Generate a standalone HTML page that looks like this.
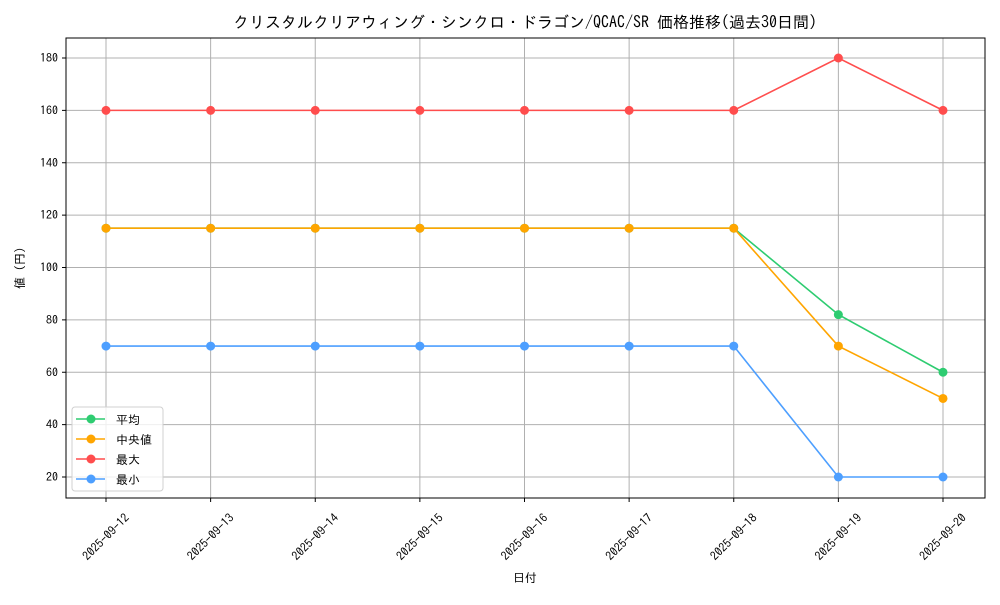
<!DOCTYPE html>
<html><head><meta charset="utf-8"><style>
body{margin:0;background:#fff}
svg text{font-family:"IPAGothic","Noto Sans CJK JP",sans-serif;fill:#000}
</style></head><body>
<svg id="c" width="1000" height="600" xmlns="http://www.w3.org/2000/svg">
<rect width="1000" height="600" fill="#fff"/>
<text x="525" y="28" font-size="16" text-anchor="middle">クリスタルクリアウィング・シンクロ・ドラゴン/QCAC/SR 価格推移(過去30日間)</text>
<g id="grid"></g><g id="series"></g>
<rect x="66" y="38" width="919" height="460" fill="none" stroke="#000" stroke-width="1"/>
<g id="axes"></g>
<text x="525" y="582" font-size="12" text-anchor="middle">日付</text>
<text transform="translate(24,268) rotate(-90)" font-size="12" text-anchor="middle">値 (円)</text>
<g id="legend"></g>
</svg>
<script>
const dates=["2025-09-12","2025-09-13","2025-09-14","2025-09-15","2025-09-16","2025-09-17","2025-09-18","2025-09-19","2025-09-20"];
const avgVals=[115,115,115,115,115,115,115,82,60];
const medVals=[115,115,115,115,115,115,115,70,50];
const maxVals=[160,160,160,160,160,160,160,180,160];
const minVals=[70,70,70,70,70,70,70,20,20];
const yTicks=[20,40,60,80,100,120,140,160,180];
const names=["平均","中央値","最大","最小"];
const NS="http://www.w3.org/2000/svg";
const x=i=>106+i*(943-106)/(dates.length-1);
const y=v=>477-(v-20)*(477-58)/160;
function mk(t,a,p){const e=document.createElementNS(NS,t);for(const k in a)e.setAttribute(k,a[k]);p.appendChild(e);return e;}
const grid=document.getElementById('grid'),axes=document.getElementById('axes'),ser=document.getElementById('series'),leg=document.getElementById('legend');
dates.forEach((d,i)=>{
 const g=mk('line',{x1:x(i),x2:x(i),y1:38,y2:498,stroke:'#b0b0b0','stroke-width':1},grid);
 
 mk('line',{x1:x(i),x2:x(i),y1:498,y2:502,stroke:'#000'},axes);
 const t=mk('text',{transform:`translate(${x(i)},537) rotate(-45)`,'font-size':12,'text-anchor':'middle',dy:4},axes);
 t.textContent=d;
 
});
yTicks.forEach(v=>{
 const g=mk('line',{x1:66,x2:985,y1:y(v),y2:y(v),stroke:'#b0b0b0','stroke-width':1},grid);
 
 mk('line',{x1:62,x2:66,y1:y(v),y2:y(v),stroke:'#000'},axes);
 const t=mk('text',{x:58,y:y(v)+4,'font-size':12,'text-anchor':'end'},axes);
 t.textContent=v;
 
});
const all=[[avgVals,'#2ecc71','series-average'],[medVals,'#ffa500','series-median'],[maxVals,'#ff4d4d','series-max'],[minVals,'#4d9fff','series-min']];
all.forEach(([vals,col,nm])=>{
 const g=mk('g',{},ser);
 
 mk('polyline',{points:vals.map((v,i)=>x(i)+','+y(v)).join(' '),fill:'none',stroke:col,'stroke-width':1.6},g);
 vals.forEach((v,i)=>{const c=mk('circle',{cx:x(i),cy:y(v),r:4.5,fill:col},g);
  });
});
const lb=mk('rect',{x:72,y:407,width:91,height:84,rx:3,fill:'#fff','fill-opacity':0.8,stroke:'#d0d0d0'},leg);

all.forEach(([v,col],k)=>{
 const g=mk('g',{},leg);
 
 const yy=419+k*20;
 mk('line',{x1:76,x2:105,y1:yy,y2:yy,stroke:col,'stroke-width':1.6},g);
 mk('circle',{cx:91,cy:yy,r:4.5,fill:col},g);
 const t=mk('text',{x:116,y:yy+5,'font-size':12},g);t.textContent=names[k];
});
</script>
</body></html>
